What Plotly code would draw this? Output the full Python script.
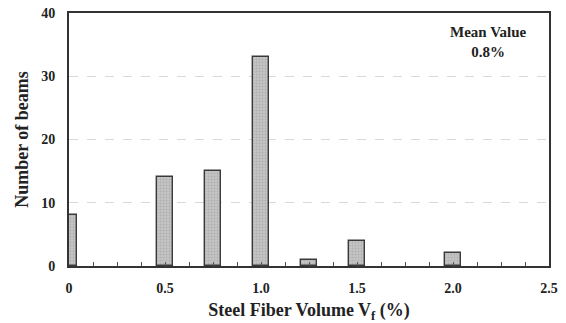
import plotly.graph_objects as go

# Steel fiber volume fraction (%) and number of beams at each level
fiber_volume = [0.0, 0.5, 0.75, 1.0, 1.25, 1.5, 2.0]
beam_count = [8, 14, 15, 33, 1, 4, 2]

x_tick_vals = [0, 0.5, 1.0, 1.5, 2.0, 2.5]
x_tick_text = ["0", "0.5", "1.0", "1.5", "2.0", "2.5"]
y_tick_vals = [0, 10, 20, 30, 40]

serif = "Liberation Serif, Times New Roman, serif"

fig = go.Figure(
    go.Bar(
        x=fiber_volume,
        y=beam_count,
        width=0.085,
        marker=dict(
            color="#bcbcbc",
            line=dict(color="#3a3a3a", width=1.4),
            pattern=dict(shape=".", fgcolor="#9a9a9a", bgcolor="#c4c4c4", size=3, solidity=0.35),
        ),
    )
)

fig.update_layout(
    width=566,
    height=323,
    margin=dict(l=69, r=17, t=13, b=57),
    paper_bgcolor="white",
    plot_bgcolor="white",
    showlegend=False,
    font=dict(family=serif, color="#222222"),
    bargap=0,
)

fig.update_xaxes(
    range=[0, 2.5],
    tickvals=x_tick_vals,
    ticktext=x_tick_text,
    tickfont=dict(size=14, family=serif, weight="bold"),
    ticks="inside",
    ticklen=4,
    tickcolor="#555555",
    ticklabelstandoff=8,
    minor=dict(dtick=0.125, ticks="inside", ticklen=4, tickcolor="#555555"),
    showline=True,
    linecolor="#333333",
    linewidth=2,
    mirror=True,
    showgrid=False,
    zeroline=False,
    automargin=False,
    title=dict(
        text="<b>Steel Fiber Volume V<sub>f</sub> (%)</b>",
        font=dict(size=18, family=serif),
    ),
)

fig.update_yaxes(
    range=[0, 40],
    tickvals=y_tick_vals,
    tickfont=dict(size=14, family=serif, weight="bold"),
    ticks="",
    ticklabelstandoff=9,
    showline=True,
    linecolor="#333333",
    linewidth=2,
    mirror=True,
    showgrid=True,
    gridcolor="#d9d9d9",
    griddash="dash",
    gridwidth=1,
    zeroline=False,
    automargin=False,
    title=dict(
        text="<b>Number of beams</b>",
        font=dict(size=18, family=serif),
        standoff=8,
    ),
)

fig.add_annotation(
    x=0.873, y=0.965, xref="paper", yref="paper",
    text="<b>Mean Value<br>0.8%</b>",
    showarrow=False,
    font=dict(size=15, family=serif, color="#222222"),
    align="center",
    xanchor="center",
    yanchor="top",
)

fig.write_html("out.html")
